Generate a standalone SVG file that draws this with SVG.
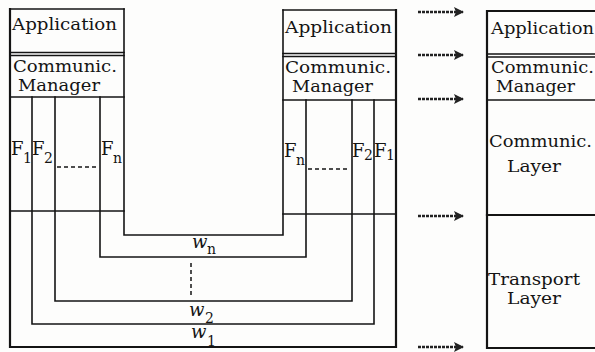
<svg xmlns="http://www.w3.org/2000/svg" width="595" height="352" viewBox="0 0 595 352">
<defs>
<style>
.ln{stroke:#141414;stroke-width:1.6;fill:none;stroke-linecap:square}
.th{stroke:#141414;stroke-width:2.2;fill:none;stroke-linecap:square}
.ds{stroke:#141414;stroke-width:1.5;fill:none;stroke-dasharray:4 3}
.t{font-family:"DejaVu Serif","Liberation Serif",serif;font-size:17px;fill:#141414}
.t2{font-family:"DejaVu Serif","Liberation Serif",serif;font-size:16px;fill:#141414}
.f{font-family:"DejaVu Serif","Liberation Serif",serif;font-size:18px;fill:#141414}
.w{font-family:"DejaVu Serif","Liberation Serif",serif;font-size:18px;font-style:italic;fill:#141414}
.s{font-family:"DejaVu Serif","Liberation Serif",serif;font-size:14px;fill:#141414}
.ar{stroke:#222;stroke-width:2.4;stroke-dasharray:3 1;fill:none}
</style>
<marker id="ah" viewBox="0 0 10 10" refX="9" refY="5" markerWidth="12" markerHeight="10" markerUnits="userSpaceOnUse" orient="auto">
<path d="M0,0 L10,5 L0,10 L2,5 Z" fill="#222"/>
</marker>
</defs>
<rect width="595" height="352" fill="#fdfdfc"/>

<g id="sender">
<path class="ln" d="M10 9 H124 M10 52.5 H124 M10 55.5 H124 M10 97 H124 M10 211 H124"/>
<path class="ds" d="M57 167 H98"/>
<text class="t" x="12" y="30" textLength="105" lengthAdjust="spacingAndGlyphs">Application</text>
<text class="t2" x="13" y="72" textLength="104" lengthAdjust="spacingAndGlyphs">Communic.</text>
<text class="t2" x="18" y="91" textLength="82" lengthAdjust="spacingAndGlyphs">Manager</text>
<text class="f" x="11" y="155">F</text><text class="s" x="23" y="163">1</text>
<text class="f" x="32" y="155">F</text><text class="s" x="44" y="163">2</text>
<text class="f" x="101" y="155">F</text><text class="s" x="113" y="163">n</text>
</g>

<g id="receiver">
<path class="ln" d="M283 10 H396 M283 53.5 H396 M283 56.5 H396 M283 100 H396 M283 214 H396"/>
<path class="ds" d="M308 169 H350"/>
<text class="t" x="285" y="33" textLength="107" lengthAdjust="spacingAndGlyphs">Application</text>
<text class="t2" x="285" y="73" textLength="106" lengthAdjust="spacingAndGlyphs">Communic.</text>
<text class="t2" x="292" y="92" textLength="81" lengthAdjust="spacingAndGlyphs">Manager</text>
<text class="f" x="284" y="157">F</text><text class="s" x="296" y="165">n</text>
<text class="f" x="352" y="157">F</text><text class="s" x="364" y="160">2</text>
<text class="f" x="374" y="157">F</text><text class="s" x="386" y="160">1</text>
</g>

<g id="channels">
<path class="th" d="M10 9 V347 H396 V10"/>
<path class="ln" d="M32 97 V324 H374 V100"/>
<path class="ln" d="M55 97 V301 H352 V100"/>
<path class="ln" d="M100 97 V257 H306 V100"/>
<path class="ln" d="M124 9 V235 H283 V10"/>
<path class="ds" d="M191 263 V298"/>
<text class="w" x="192" y="248">w</text><text class="s" x="207" y="254">n</text>
<text class="w" x="189" y="316">w</text><text class="s" x="205" y="323">2</text>
<text class="w" x="191" y="338">w</text><text class="s" x="207" y="346">1</text>
</g>

<g id="layers">
<path class="th" d="M487 11 V348 H595 M487 11 H595"/>
<path class="ln" d="M487 54 H595 M487 57 H595 M487 100 H595"/>
<path class="th" d="M487 215 H595"/>
<text class="t" x="491" y="34" textLength="103" lengthAdjust="spacingAndGlyphs">Application</text>
<text class="t2" x="491" y="73" textLength="103" lengthAdjust="spacingAndGlyphs">Communic.</text>
<text class="t2" x="496" y="92" textLength="79" lengthAdjust="spacingAndGlyphs">Manager</text>
<text class="t" x="489" y="147" textLength="103" lengthAdjust="spacingAndGlyphs">Communic.</text>
<text class="t" x="507" y="172" textLength="54" lengthAdjust="spacingAndGlyphs">Layer</text>
<text class="t" x="488" y="285" textLength="92" lengthAdjust="spacingAndGlyphs">Transport</text>
<text class="t" x="507" y="304" textLength="54" lengthAdjust="spacingAndGlyphs">Layer</text>
</g>

<g id="connectors">
<path class="ar" marker-end="url(#ah)" d="M418 12 H463"/>
<path class="ar" marker-end="url(#ah)" d="M418 55 H463"/>
<path class="ar" marker-end="url(#ah)" d="M418 99 H463"/>
<path class="ar" marker-end="url(#ah)" d="M418 216 H463"/>
<path class="ar" marker-end="url(#ah)" d="M418 347 H463"/>
</g>
</svg>
